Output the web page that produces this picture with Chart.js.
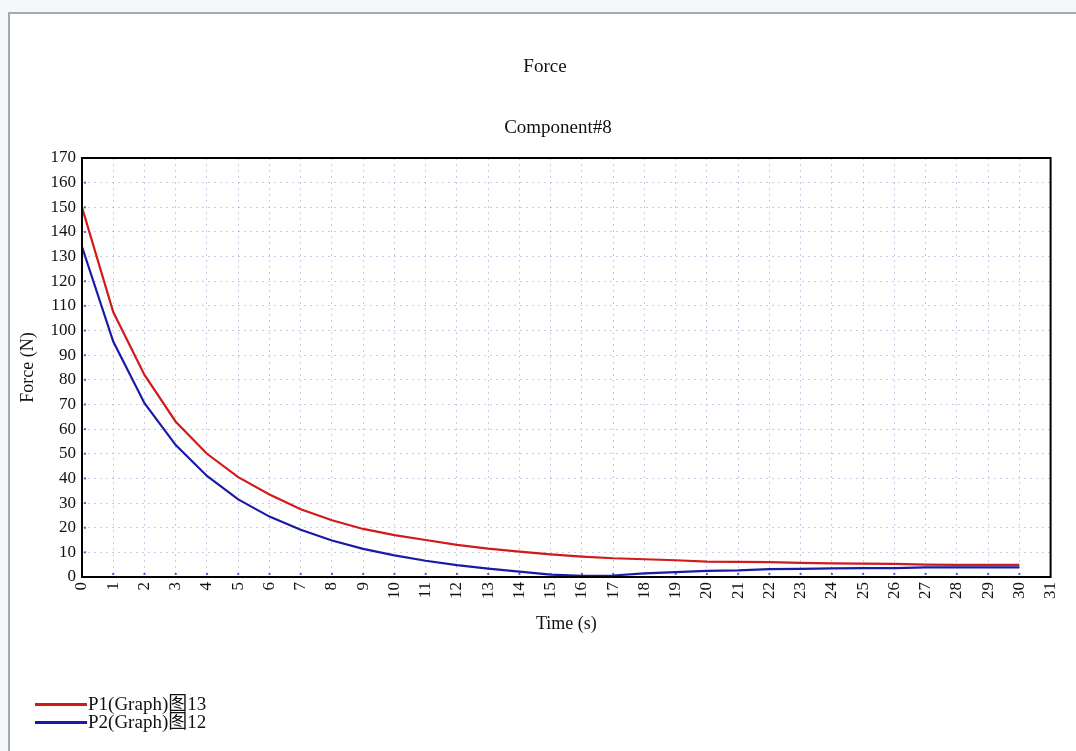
<!DOCTYPE html>
<html>
<head>
<meta charset="utf-8">
<script src="https://cdn.jsdelivr.net/npm/chart.js@4"></script>
<style>
  html, body { margin: 0; padding: 0; background: #f5f8fb; }
  #wrap { position: relative; width: 1076px; height: 751px; overflow: hidden; background: #f5f8fb; }
  #frame { position: absolute; left: 8px; top: 12px; width: 1080px; height: 760px; background: #fff;
           border-left: 2px solid #a9a9a9; border-top: 2px solid #a9a9a9; box-sizing: border-box; }
  #chartBox { position: absolute; left: 0; top: 0; width: 1076px; height: 751px; }
  #legend { position: absolute; left: 35px; top: 695px; font-family: "Liberation Serif", "Noto Sans CJK SC", serif;
            font-size: 19px; color: #111; line-height: 18px; }
  .item { display: flex; align-items: center; height: 18px; }
  .swatch { width: 52px; height: 3px; margin-right: 1px; }
</style>
</head>
<body>
<div id="wrap">
  <div id="frame"></div>
  <div id="chartBox"><canvas id="c" width="1076" height="751"></canvas></div>
  <div id="legend"></div>
</div>
<script>
const times = [0,1,2,3,4,5,6,7,8,9,10,11,12,13,14,15,16,17,18,19,20,21,22,23,24,25,26,27,28,29,30];
const p1Values = [150,107.5,82,63,50,40.5,33.5,27.5,23,19.5,17,15,13,11.5,10.3,9.2,8.3,7.6,7.2,6.8,6.2,6.1,6.0,5.7,5.5,5.4,5.3,5.0,4.9,4.9,4.9];
const p2Values = [134,95.5,70.5,53.5,41,31.5,24.5,19.2,14.8,11.4,8.8,6.6,4.8,3.4,2.2,1.0,0.5,0.6,1.5,2.0,2.5,2.7,3.2,3.3,3.5,3.6,3.6,3.9,3.9,3.9,3.9];
const seriesNames = ["P1(Graph)图13", "P2(Graph)图12"];
const seriesColors = ["#d11a1a", "#1a1aa8"];
const xTicks = Array.from({length: 32}, (_, i) => i);   // 0..31
const yTicks = [0,10,20,30,40,50,60,70,80,90,100,110,120,130,140,150,160,170];
const titleText = "Force";
const subtitleText = "Component#8";

const FONT = "'Liberation Serif', 'Times New Roman', serif";

const frameBox = {
  id: 'frameBox',
  afterDraw(chart) {
    const {ctx, chartArea: a} = chart;
    ctx.save();
    // small blue tick marks inside the axes
    ctx.fillStyle = 'rgba(60,60,200,0.8)';
    const ys = chart.scales.y, xs = chart.scales.x;
    yTicks.forEach(v => { if (v > 0 && v < 170) ctx.fillRect(a.left + 2, ys.getPixelForValue(v) - 1, 2, 2); });
    xTicks.forEach(v => { if (v > 0 && v < 31) ctx.fillRect(xs.getPixelForValue(v) - 1, a.bottom - 4, 2, 2); });
    ctx.strokeStyle = '#000';
    ctx.lineWidth = 2;
    ctx.strokeRect(a.left, a.top, a.right - a.left, a.bottom - a.top);
    // titles
    ctx.fillStyle = '#111';
    ctx.font = "19px " + FONT;
    ctx.textAlign = 'center';
    ctx.textBaseline = 'middle';
    ctx.fillText(titleText, 545, 67);
    ctx.fillText(subtitleText, 558, 128);
    ctx.restore();
  }
};

const toPts = (vals) => vals.map((v, i) => ({x: times[i], y: v}));

new Chart(document.getElementById('c'), {
  type: 'line',
  data: {
    datasets: [
      { label: seriesNames[0], data: toPts(p1Values), borderColor: seriesColors[0], borderWidth: 2.2,
        pointRadius: 0, tension: 0, fill: false },
      { label: seriesNames[1], data: toPts(p2Values), borderColor: seriesColors[1], borderWidth: 2.2,
        pointRadius: 0, tension: 0, fill: false }
    ]
  },
  options: {
    responsive: false,
    animation: false,
    layout: { padding: { top: 158, left: 0, right: 22, bottom: 114 } },
    plugins: {
      legend: { display: false },
      tooltip: { enabled: false },
      title: { display: false },
      subtitle: { display: false }
    },
    scales: {
      x: {
        type: 'linear', min: 0, max: 31,
        afterBuildTicks(scale) { scale.ticks = xTicks.map(v => ({value: v})); },
        afterFit(scale) { scale.height = 60; },
        ticks: { autoSkip: false, minRotation: 90, maxRotation: 90, padding: 5, color: '#111',
                 font: { family: FONT, size: 17 } },
        grid: { color: 'rgba(160,160,215,0.55)', lineWidth: 1, drawTicks: false },
        border: { display: false, dash: [2,4] },
        title: { display: true, text: 'Time (s)', color: '#111', padding: { top: 0, bottom: 2 },
                 font: { family: FONT, size: 18, lineHeight: 1.2 } }
      },
      y: {
        min: 0, max: 170,
        afterBuildTicks(scale) { scale.ticks = yTicks.map(v => ({value: v})); },
        afterFit(scale) { scale.width = 82; },
        ticks: { padding: 6, color: '#111', font: { family: FONT, size: 17 } },
        grid: { color: 'rgba(160,160,215,0.55)', lineWidth: 1, drawTicks: false },
        border: { display: false, dash: [2,4] },
        title: { display: true, text: 'Force (N)', color: '#111', padding: { top: 17, bottom: 0 },
                 font: { family: FONT, size: 18, lineHeight: 1.2 } }
      }
    }
  },
  plugins: [frameBox]
});

const leg = document.getElementById('legend');
seriesNames.forEach((n, i) => {
  const d = document.createElement('div'); d.className = 'item';
  const s = document.createElement('span'); s.className = 'swatch'; s.style.background = seriesColors[i];
  const t = document.createElement('span'); t.textContent = n;
  d.appendChild(s); d.appendChild(t); leg.appendChild(d);
});
</script>
</body>
</html>
